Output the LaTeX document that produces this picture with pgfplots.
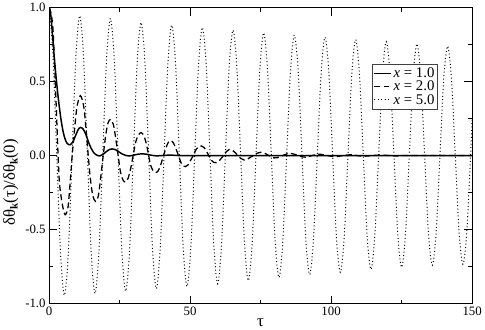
\documentclass[border=0pt]{standalone}
\usepackage{pgfplots}
\pgfplotsset{compat=1.18}
\usepackage{fontspec}
\setmainfont{Liberation Serif}

\begin{document}
\begin{tikzpicture}
\begin{axis}[
    width=429bp, height=300bp, scale only axis,
    xmin=0, xmax=150, ymin=-1, ymax=1,
    xtick={0,50,100,150}, ytick={-1,-0.5,0,0.5,1},
    minor x tick num=1, minor y tick num=1,
    major tick length=8bp, minor tick length=4bp,
    tick align=inside,
    axis line style={line width=0.8bp},
    every tick/.style={black, line width=0.8bp},
    /pgf/number format/assume math mode=true,
    yticklabel style={/pgf/number format/fixed, /pgf/number format/fixed zerofill, /pgf/number format/precision=1},
    ticklabel style={font=\fontsize{13bp}{15bp}\selectfont},
    xlabel={τ},
    ylabel={δθ\raisebox{-0.35ex}{\fontsize{11bp}{12bp}\selectfont\bfseries k}(τ)/δθ\raisebox{-0.35ex}{\fontsize{11bp}{12bp}\selectfont\bfseries k}(0)},
    label style={font=\fontsize{17bp}{19bp}\selectfont},
    xlabel style={yshift=4bp},
    ylabel style={at={(ticklabel cs:0.41)}},
    legend style={at={(0.92,0.81)}, anchor=north east, draw=black!75, line width=0.8bp,
        font=\fontsize{15bp}{15bp}\selectfont, row sep=-2bp, inner sep=1.5bp},
    legend cell align=left,
]

% x = 1.0
\addplot[black, line width=1.5bp, smooth] coordinates {
(0,1.0) (0.5,0.97) (1.2,0.82) (2.0,0.63) (2.8,0.47) (3.5,0.35) (4.3,0.235)
(5.0,0.16) (5.7,0.11) (6.5,0.08) (7.5,0.073) (8.5,0.095) (9.5,0.14) (10.4,0.178)
(11.2,0.19) (12.1,0.178) (13.1,0.14) (14.0,0.09) (14.9,0.05) (15.9,0.018)
(17.0,0.002) (17.9,-0.003) (19.0,0.006) (20.2,0.025) (21.3,0.04) (22.4,0.045)
(23.5,0.04) (24.6,0.027) (25.8,0.012) (27,0.002) (28.3,-0.003) (29.8,0.002)
(31.5,0.009) (33,0.012) (34.5,0.009) (36,0.003) (38,-0.002) (40,0.0) (43,0.003)
(46,0.0) (50,0) (100,0) (150,0)
};
\addlegendentry{\textit{x} = 1.0}

% x = 2.0
\addplot[black, line width=1.3bp, dash pattern=on 6bp off 3.5bp, smooth] coordinates {
(0,1.0) (0.7,0.96) (1.4,0.85) (2.2,0.5) (2.7,0.25) (3.2,0.0) (3.7,-0.19)
(4.7,-0.33) (5.7,-0.40) (6.7,-0.35) (7.4,-0.2) (8.2,0.0) (9.0,0.17) (9.9,0.33)
(11.1,0.405) (12.3,0.33) (13.0,0.2) (13.8,0.02) (14.6,-0.15) (15.5,-0.27)
(16.5,-0.31) (17.5,-0.27) (18.3,-0.15) (19.2,0.0) (20.1,0.14) (20.9,0.22)
(21.8,0.245) (22.8,0.21) (23.6,0.12) (24.5,0.0) (25.3,-0.11) (26.2,-0.165)
(27.1,-0.18) (28.0,-0.155) (28.9,-0.09) (29.8,0.0) (30.7,0.09) (31.7,0.14)
(32.7,0.155) (33.7,0.13) (34.6,0.07) (35.3,0.0) (36.1,-0.07) (37.0,-0.105)
(37.9,-0.115) (38.8,-0.1) (39.7,-0.055) (40.6,0.0) (41.5,0.055) (42.3,0.09)
(43.2,0.10) (44.1,0.085) (45.0,0.045) (45.9,0.0) (46.7,-0.045) (47.5,-0.07)
(48.3,-0.075) (49.2,-0.065) (50.1,-0.035) (51.1,0.0) (52.1,0.04) (53.1,0.06)
(54.0,0.065) (54.9,0.055) (55.8,0.03) (56.6,0.0) (57.5,-0.03) (58.4,-0.046)
(59.2,-0.048) (60.1,-0.04) (61.0,-0.02) (61.9,0.0) (62.8,0.025) (63.9,0.04)
(65.0,0.035) (66.0,0.02) (67.0,0.0) (68.0,-0.02) (69.2,-0.03) (70.4,-0.024)
(71.5,-0.01) (72.6,0.0) (73.8,0.016) (75.0,0.022) (76.2,0.018) (77.4,0.006)
(78.5,-0.006) (79.8,-0.016) (81.0,-0.014) (82.2,-0.005) (83.3,0.004)
(84.5,0.012) (85.8,0.014) (87,0.009) (88.2,0.0) (89.5,-0.008) (90.8,-0.011)
(92,-0.007) (93.2,0.0) (94.5,0.006) (96,0.009) (97.3,0.005) (98.6,0.0)
(100,-0.005) (101.5,-0.007) (103,-0.004) (104.3,0.0) (105.7,0.004) (107,0.005)
(108.5,0.002) (110,-0.002) (112,-0.004) (114,-0.001) (116,0.002) (118,0.003)
(120,0.001) (122,-0.002) (124,-0.002) (126,0.0) (135,0.0) (150,0.0)
};
\addlegendentry{\textit{x} = 2.0}

% x = 5.0
\addplot[black, line width=1bp, dash pattern=on 1bp off 2.5bp, smooth] coordinates {
(0,1.0) (1.36,0.69) (2.72,0.0) (4.08,-0.668) (5.43,-0.945) (6.79,-0.668) (8.15,0) (9.51,0.668)
(10.87,0.945) (12.23,0.664) (13.59,0) (14.95,-0.66) (16.30,-0.933) (17.66,-0.658) (19.02,0) (20.38,0.65)
(21.74,0.927) (23.10,0.652) (24.46,0) (25.82,-0.648) (27.17,-0.917) (28.53,-0.642) (29.89,0) (31.25,0.63)
(32.61,0.90) (33.97,0.636) (35.33,0) (36.69,-0.636) (38.04,-0.90) (39.40,-0.63) (40.76,0) (42.12,0.62)
(43.48,0.882) (44.84,0.625) (46.20,0) (47.56,-0.625) (48.91,-0.885) (50.27,-0.62) (51.63,0) (52.99,0.61)
(54.35,0.866) (55.71,0.613) (57.07,0) (58.43,-0.613) (59.78,-0.867) (61.14,-0.606) (62.50,0) (63.86,0.60)
(65.22,0.848) (66.58,0.599) (67.94,0) (69.30,-0.598) (70.65,-0.846) (72.01,-0.592) (73.37,0) (74.73,0.586)
(76.09,0.83) (77.45,0.585) (78.81,0) (80.17,-0.583) (81.52,-0.825) (82.88,-0.579) (84.24,0) (85.60,0.573)
(86.96,0.814) (88.32,0.572) (89.68,0) (91.04,-0.569) (92.39,-0.805) (93.75,-0.567) (95.11,0) (96.47,0.562)
(97.83,0.80) (99.19,0.562) (100.55,0) (101.91,-0.559) (103.26,-0.79) (104.62,-0.556) (105.98,0) (107.34,0.552)
(108.70,0.784) (110.06,0.549) (111.42,0) (112.78,-0.544) (114.13,-0.77) (115.49,-0.544) (116.85,0) (118.21,0.544)
(119.57,0.77) (120.93,0.54) (122.29,0) (123.65,-0.535) (125.00,-0.756) (126.36,-0.535) (127.72,0) (129.08,0.534)
(130.44,0.755) (131.80,0.529) (133.16,0) (134.52,-0.525) (135.87,-0.742) (137.23,-0.524) (138.59,0) (139.95,0.523)
(141.31,0.74) (142.67,0.522) (144.03,0) (145.39,-0.52) (146.74,-0.735) (148.10,-0.52) (149.46,0) (150,0.25)
};
\addlegendentry{\textit{x} = 5.0}

\end{axis}
\end{tikzpicture}
\end{document}
